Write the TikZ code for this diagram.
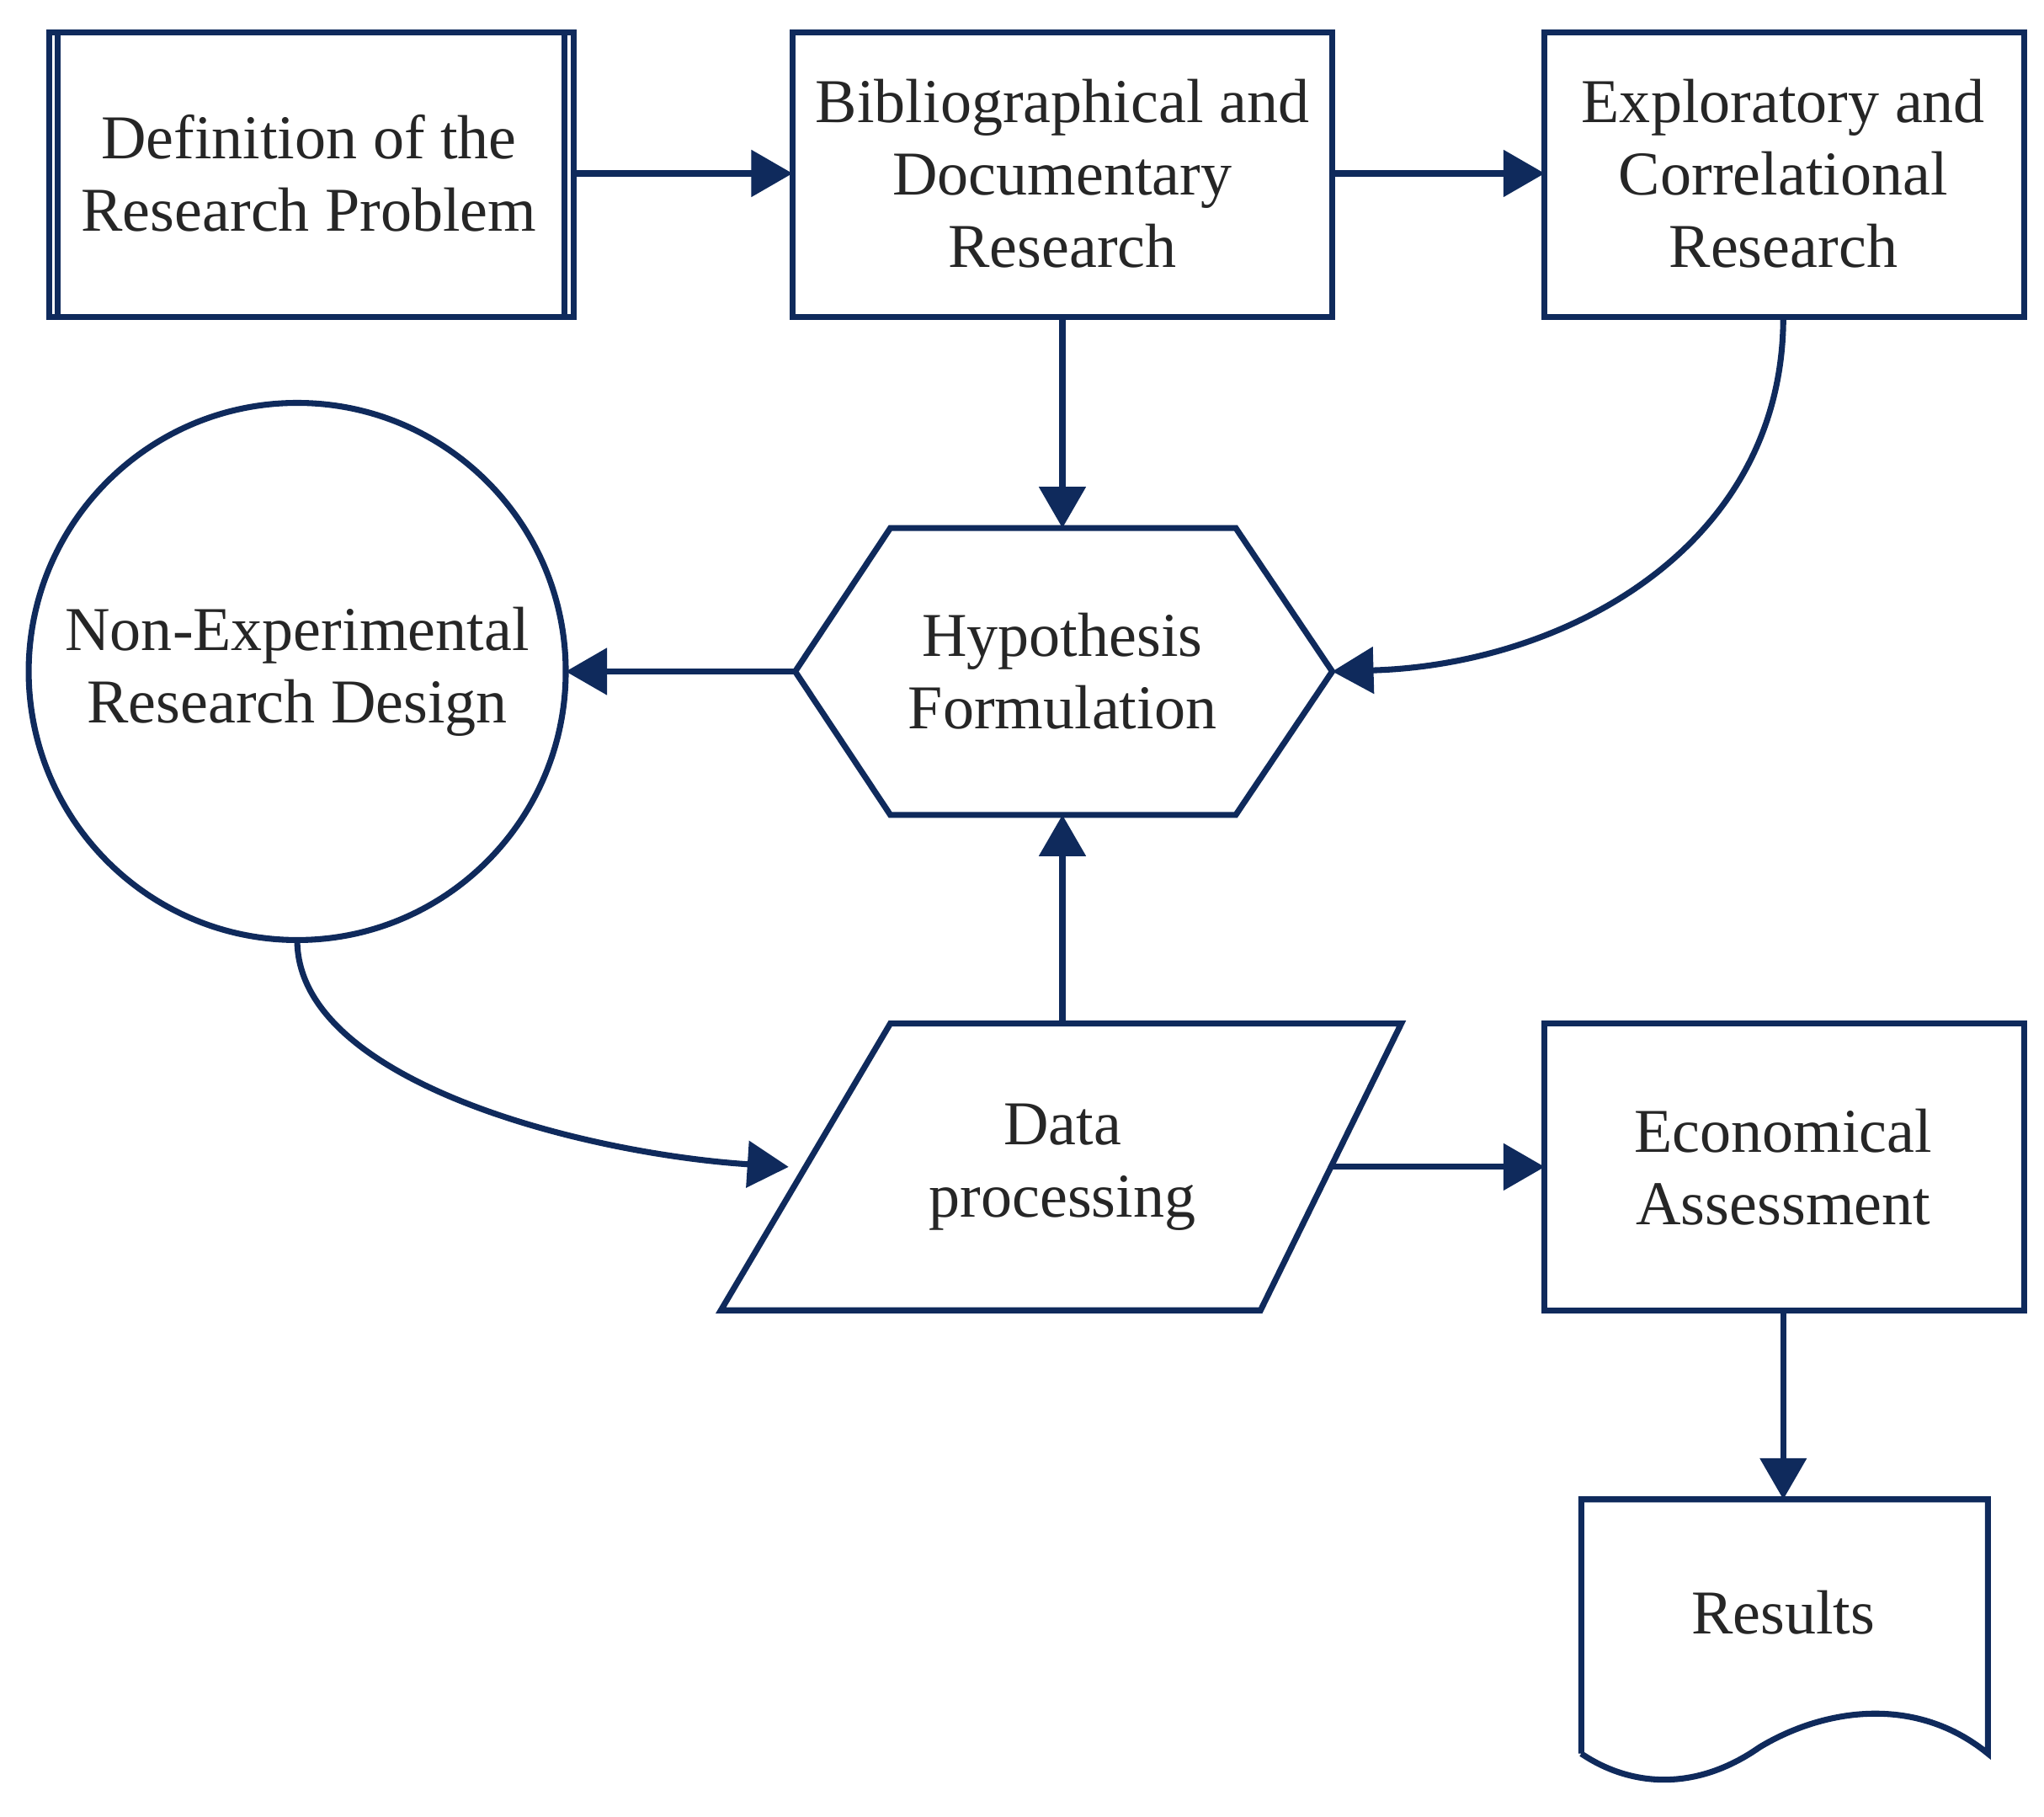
\documentclass[tikz,border=0pt]{standalone}
\usepackage{fontspec}
\setmainfont{Liberation Serif}
\usetikzlibrary{arrows.meta}
\definecolor{nv}{HTML}{0F2A5C}
\begin{document}
\begin{tikzpicture}[x=0.01cm,y=-0.01cm,
  shp/.style={draw=nv,line width=1.3pt},
  txt/.style={align=center,font=\fontsize{13.6pt}{15.8pt}\selectfont,text=black!85},
  arr/.style={draw=nv,line width=1.3pt,-{Triangle[length=9pt,width=10pt]}}]
\useasboundingbox (0,0) rectangle (1568,1393);
% shapes
\draw[shp] (38,25) rectangle (440,243);
\draw[shp] (44,25) -- (44,243) (433,25) -- (433,243);
\draw[shp] (608,25) rectangle (1022,243);
\draw[shp] (1185,25) rectangle (1553,243);
\draw[shp] (610,515) -- (683,405) -- (948,405) -- (1022,515) -- (948,625) -- (683,625) -- cycle;
\draw[shp] (228,515) circle[radius=206];
\draw[shp] (553,1005) -- (683,785) -- (1075,785) -- (967,1005) -- cycle;
\draw[shp] (1185,785) rectangle (1553,1005);
\draw[shp] (1213,1345) -- (1213,1150) -- (1525,1150) -- (1525,1345)
  .. controls (1470,1300) and (1400,1310) .. (1350,1340)
  .. controls (1300,1375) and (1250,1370) .. (1213,1345);
% text nodes
\node[txt] (def) at (237,133) {Definition of the\\Research Problem};
\node[txt] (bib) at (815,133) {Bibliographical and\\Documentary\\Research};
\node[txt] (exp) at (1368,133) {Exploratory and\\Correlational\\Research};
\node[txt] (hyp) at (815,515) {Hypothesis\\Formulation};
\node[txt] (non) at (228,515) {Non-Experimental\\Research Design};
\node[txt] (dat) at (815,895) {Data\\processing};
\node[txt] (eco) at (1368,895) {Economical\\Assessment};
\node[txt] (res) at (1368,1237) {Results};
% connection points
\coordinate (defE) at (440,133); \coordinate (bibW) at (608,133);
\coordinate (bibE) at (1022,133); \coordinate (expW) at (1185,133);
\coordinate (bibS) at (815,243); \coordinate (hypN) at (815,405);
\coordinate (expS) at (1368,243); \coordinate (hypE) at (1022,515);
\coordinate (hypW) at (610,515); \coordinate (nonE) at (434,515);
\coordinate (nonS) at (228,721); \coordinate (datW) at (605,895);
\coordinate (datN) at (815,785); \coordinate (hypS) at (815,625);
\coordinate (datE) at (1022,895); \coordinate (ecoW) at (1185,895);
\coordinate (ecoS) at (1368,1005); \coordinate (resN) at (1368,1150);
% connectors
\draw[arr] (defE) -- (bibW);
\draw[arr] (bibE) -- (expW);
\draw[arr] (bibS) -- (hypN);
\draw[arr] (expS) .. controls (1368,420) and (1200,510) .. (hypE);
\draw[arr] (hypW) -- (nonE);
\draw[arr] (nonS) .. controls (228,830) and (450,885) .. (datW);
\draw[arr] (datN) -- (hypS);
\draw[arr] (datE) -- (ecoW);
\draw[arr] (ecoS) -- (resN);
\end{tikzpicture}
\end{document}
